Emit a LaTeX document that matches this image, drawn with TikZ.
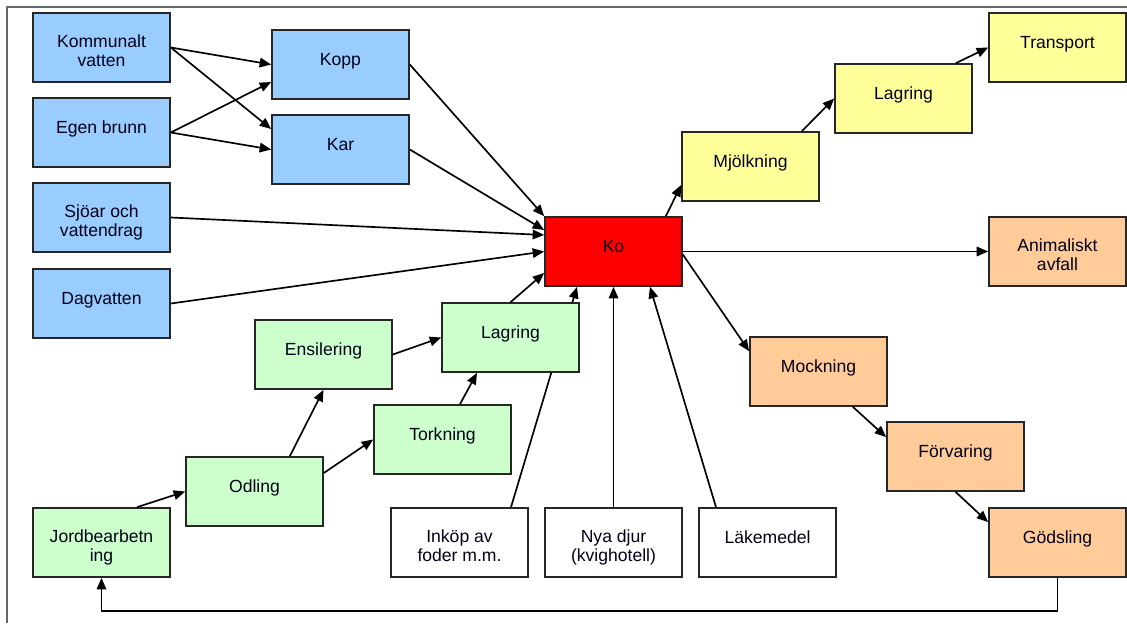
\documentclass[tikz,border=0pt]{standalone}
\usepackage{fontspec}
\setmainfont{Liberation Sans}
\usetikzlibrary{arrows.meta,backgrounds}

\definecolor{vattenbla}{HTML}{99CCFF}
\definecolor{fodergron}{HTML}{CCFFCC}
\definecolor{mjolkgul}{HTML}{FFFF99}
\definecolor{godselorange}{HTML}{FFCC99}

\tikzset{
	box/.style={draw=black!85, line width=0.95pt, minimum width=2.74cm, minimum height=1.38cm, inner sep=0pt},
	lbl/.style={anchor=north, yshift=-12.7pt, inner sep=0pt, align=center, text=black!90!blue, font=\fontsize{10}{11}\selectfont, execute at begin node=\strut},
	arr/.style={-{Triangle[length=2.3mm,width=1.9mm]}, line width=0.95pt},
}

\begin{document}
\begin{tikzpicture}[x=0.02cm, y=-0.02cm]
	\useasboundingbox (0,0) rectangle (1127,623);
	\draw[black!60, line width=1.1pt] (7,623) -- (7,7) -- (1127,7);

	% vatten
	\node[box, fill=vattenbla, label={[lbl]90:Kommunalt\\vatten}] (komm) at (101.5,47.5) {};
	\node[box, fill=vattenbla, label={[lbl]90:Egen brunn}] (egen) at (101.5,132.5) {};
	\node[box, fill=vattenbla, label={[lbl]90:Sjöar och\\vattendrag}] (sjoar) at (101.5,217.5) {};
	\node[box, fill=vattenbla, label={[lbl]90:Dagvatten}] (dag) at (101.5,303.5) {};
	\node[box, fill=vattenbla, label={[lbl]90:Kopp}] (kopp) at (340.5,64.5) {};
	\node[box, fill=vattenbla, label={[lbl]90:Kar}] (kar) at (340.5,149.5) {};

	\node[box, fill=red, label={[lbl]90:Ko}] (ko) at (613.5,251.5) {};

	% mjolk
	\node[box, fill=mjolkgul, label={[lbl]90:Mjölkning}] (mjolk) at (750.5,166.5) {};
	\node[box, fill=mjolkgul, label={[lbl]90:Lagring}] (lagy) at (903.5,98.5) {};
	\node[box, fill=mjolkgul, label={[lbl]90:Transport}] (transp) at (1057.5,47.5) {};

	% godsel
	\node[box, fill=godselorange, label={[lbl]90:Animaliskt\\avfall}] (anim) at (1057.5,251.5) {};
	\node[box, fill=godselorange, label={[lbl]90:Mockning}] (mock) at (818.5,371.5) {};
	\node[box, fill=godselorange, label={[lbl]90:Förvaring}] (forv) at (955.5,456.5) {};
	\node[box, fill=godselorange, label={[lbl]90:Gödsling}] (gods) at (1057.5,542.5) {};

	% foder
	\node[box, fill=fodergron, label={[lbl]90:Ensilering}] (ensil) at (323.5,354.5) {};
	\node[box, fill=fodergron, label={[lbl]90:Lagring}] (lagg) at (510.5,337.5) {};
	\node[box, fill=fodergron, label={[lbl]90:Torkning}] (tork) at (442.5,439.5) {};
	\node[box, fill=fodergron, label={[lbl]90:Odling}] (odl) at (254.5,491.5) {};
	\node[box, fill=fodergron, label={[lbl]90:Jordbearbetn\\ing}] (jord) at (101.5,542.5) {};

	% inkop
	\node[box, fill=white, label={[lbl]90:Inköp av\\foder m.m.}] (inkop) at (459.5,542.5) {};
	\node[box, fill=white, label={[lbl]90:Nya djur\\(kvighotell)}] (nya) at (613.5,542.5) {};
	\node[box, fill=white, label={[lbl]90:Läkemedel}] (lake) at (767.5,542.5) {};

	\foreach \a/\b in {komm.east/kopp.west, egen.east/kar.west, kopp.east/ko.north west,
			dag.east/ko.west, nya.north/ko.south, ko.east/anim.west, ensil.east/lagg.west}
		\draw[arr] (\a) -- (\b);

	\draw[arr] (komm.east) -- ([yshift=0.41cm]kar.west);
	\draw[arr] (egen.east) -- ([yshift=-0.35cm]kopp.west);
	\draw[arr] (kar.east) -- ([yshift=0.43cm]ko.west);
	\draw[arr] (sjoar.east) -- ([yshift=0.33cm]ko.west);
	\draw[arr] (lagg.north) -- ([yshift=-0.43cm]ko.west);
	\begin{pgfonlayer}{background}
		\draw[arr] ([xshift=1.03cm]inkop.north) -- ([xshift=-0.73cm]ko.south);
	\end{pgfonlayer}
	\draw[arr] ([xshift=-1.03cm]lake.north) -- ([xshift=0.73cm]ko.south);

	\draw[arr] ([xshift=-0.34cm]ko.north east) -- ([yshift=-0.37cm]mjolk.west);
	\draw[arr] ([xshift=-0.36cm]mjolk.north east) -- (lagy.west);
	\draw[arr] ([xshift=-0.34cm]lagy.north east) -- (transp.west);

	\draw[arr] ([yshift=-0.06cm]ko.east) -- ([yshift=-0.3cm]mock.north west);
	\draw[arr] ([xshift=-0.7cm]mock.south east) -- ([yshift=-0.32cm]forv.north west);
	\draw[arr] (forv.south) -- ([yshift=-0.3cm]gods.north west);
	\draw[arr] (gods.south) -- ++(0cm,-0.66cm) -| (jord.south);

	\draw[arr] ([xshift=0.71cm]jord.north) -- (odl.west);
	\draw[arr] ([xshift=-0.68cm]odl.north east) -- (ensil.south);
	\draw[arr] ([yshift=0.37cm]odl.east) -- (tork.west);
	\draw[arr] ([xshift=0.35cm]tork.north) -- ([xshift=-0.67cm]lagg.south);
\end{tikzpicture}
\end{document}
